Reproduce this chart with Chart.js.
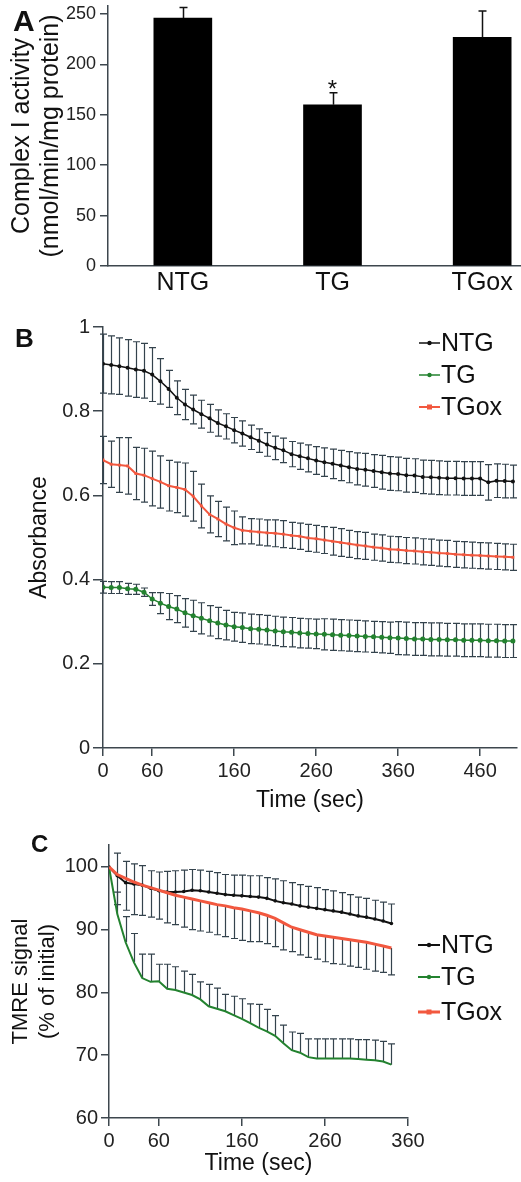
<!DOCTYPE html>
<html>
<head>
<meta charset="utf-8">
<script src="https://cdn.jsdelivr.net/npm/chart.js@4.4.1/dist/chart.umd.min.js"></script>
<style>
  html, body { overflow: hidden; }
  body { margin: 0; background: #fff; width: 521px; height: 1182px; position: relative;
         font-family: "Liberation Sans", Arial, sans-serif; }
  canvas { position: absolute; left: 0; }
  .panel { position: absolute; font-weight: bold; line-height: 1; color: #111; }
</style>
</head>
<body>
<canvas id="chartA" width="557" height="300" style="top:0px"></canvas>
<canvas id="chartB" width="521" height="520" style="top:300px"></canvas>
<canvas id="chartC" width="521" height="342" style="top:840px"></canvas>
<div class="panel" style="left:13px; top:6px; font-size:30px">A</div>
<div class="panel" style="left:15px; top:325px; font-size:26px">B</div>
<div class="panel" style="left:31px; top:832px; font-size:24px">C</div>

<script>
// ---- panel A: complex I activity ----
const categoriesA = ['NTG', 'TG', 'TGox'];
const activityA = [246, 160, 227];
const activityErrA = [10.5, 12, 26];
const yTicksA = [0, 50, 100, 150, 200, 250];

// ---- panel B: absorbance vs time ----
const timeB = [0, 10, 20, 30, 40, 50, 60, 70, 80, 90, 100, 110, 120, 130, 140, 150, 160, 170, 180, 190,
  200, 210, 220, 230, 240, 250, 260, 270, 280, 290, 300, 310, 320, 330, 340, 350, 360, 370, 380, 390,
  400, 410, 420, 430, 440, 450, 460, 470, 480, 490, 500];
const ntgB = [0.913, 0.910, 0.907, 0.903, 0.899, 0.896, 0.887, 0.871, 0.853, 0.832,
  0.816, 0.804, 0.793, 0.783, 0.772, 0.764, 0.755, 0.747, 0.738, 0.730,
  0.721, 0.713, 0.707, 0.698, 0.693, 0.688, 0.683, 0.679, 0.675, 0.671,
  0.667, 0.663, 0.661, 0.658, 0.655, 0.652, 0.651, 0.648, 0.647, 0.644,
  0.643, 0.642, 0.641, 0.641, 0.640, 0.640, 0.640, 0.631, 0.635, 0.634, 0.633];
const ntgErrB = [0.070, 0.069, 0.067, 0.067, 0.066, 0.065, 0.064, 0.054, 0.044, 0.040,
  0.036, 0.034, 0.033, 0.033, 0.031, 0.030, 0.030, 0.030, 0.029, 0.028,
  0.028, 0.028, 0.029, 0.030, 0.031, 0.032, 0.033, 0.034, 0.035, 0.036,
  0.037, 0.038, 0.039, 0.039, 0.040, 0.040, 0.040, 0.040, 0.040, 0.040,
  0.040, 0.040, 0.040, 0.040, 0.040, 0.040, 0.040, 0.042, 0.040, 0.040, 0.039];
const tgB = [0.382, 0.381, 0.381, 0.378, 0.377, 0.370, 0.354, 0.344, 0.336, 0.330,
  0.321, 0.314, 0.308, 0.302, 0.297, 0.292, 0.288, 0.286, 0.283, 0.282,
  0.280, 0.278, 0.276, 0.275, 0.273, 0.272, 0.271, 0.270, 0.269, 0.268,
  0.267, 0.266, 0.265, 0.264, 0.263, 0.262, 0.261, 0.260, 0.259, 0.259,
  0.258, 0.258, 0.257, 0.257, 0.256, 0.256, 0.256, 0.255, 0.255, 0.254, 0.254];
const tgErrB = [0.014, 0.014, 0.014, 0.013, 0.012, 0.010, 0.015, 0.025, 0.031, 0.032,
  0.034, 0.037, 0.037, 0.036, 0.037, 0.035, 0.034, 0.035, 0.035, 0.035,
  0.035, 0.035, 0.035, 0.035, 0.035, 0.035, 0.035, 0.037, 0.037, 0.037,
  0.037, 0.037, 0.037, 0.037, 0.037, 0.037, 0.039, 0.039, 0.039, 0.039,
  0.039, 0.039, 0.039, 0.039, 0.039, 0.039, 0.039, 0.039, 0.039, 0.039, 0.039];
const tgoxB = [0.684, 0.674, 0.672, 0.670, 0.652, 0.648, 0.640, 0.632, 0.623, 0.619,
  0.614, 0.598, 0.575, 0.555, 0.544, 0.532, 0.523, 0.517, 0.515, 0.513,
  0.511, 0.510, 0.508, 0.505, 0.503, 0.499, 0.497, 0.494, 0.491, 0.488,
  0.485, 0.482, 0.480, 0.477, 0.475, 0.472, 0.471, 0.469, 0.468, 0.466,
  0.465, 0.463, 0.462, 0.460, 0.459, 0.458, 0.457, 0.456, 0.455, 0.454, 0.453];
const tgoxErrB = [0.056, 0.055, 0.065, 0.067, 0.062, 0.064, 0.065, 0.062, 0.060, 0.060,
  0.063, 0.059, 0.052, 0.044, 0.042, 0.040, 0.040, 0.032, 0.030, 0.031,
  0.031, 0.032, 0.032, 0.031, 0.031, 0.032, 0.032, 0.032, 0.033, 0.033,
  0.032, 0.032, 0.032, 0.031, 0.031, 0.031, 0.031, 0.031, 0.031, 0.031,
  0.031, 0.031, 0.031, 0.031, 0.031, 0.031, 0.031, 0.031, 0.031, 0.031, 0.031];
const xTicksB = [0, 60, 160, 260, 360, 460];
const yTicksB = [0, 0.2, 0.4, 0.6, 0.8, 1];

// ---- panel C: TMRE signal vs time ----
const timeC = [0, 10, 20, 30, 40, 50, 60, 70, 80, 90, 100, 110, 120, 130, 140, 150, 160, 170,
  180, 190, 200, 210, 220, 230, 240, 250, 260, 270, 280, 290, 300, 310, 320, 330, 340];
const ntgC = [100, 98.6, 97.5, 97.3, 97.1, 96.6, 96.2, 96.0, 96.0, 96.1,
  96.3, 96.2, 96.0, 95.8, 95.6, 95.5, 95.4, 95.3, 95.2, 95.0,
  94.6, 94.3, 94.1, 93.8, 93.6, 93.4, 93.2, 93.0, 92.8, 92.5,
  92.2, 92.0, 91.7, 91.4, 91.0];
const ntgErrC = [0, 3.6, 3.4, 3.2, 3.1, 2.8, 3.0, 3.3, 3.4, 3.4,
  3.3, 3.3, 3.3, 3.3, 3.2, 3.2, 3.3, 3.3, 3.4, 3.3,
  3.5, 3.5, 3.4, 3.4, 3.3, 3.3, 3.2, 3.2, 3.1, 3.1,
  3.0, 3.0, 3.0, 3.0, 3.1];
const tgC = [100, 92.5, 88.0, 84.8, 82.3, 81.7, 81.8, 80.6, 80.4, 80.0,
  79.6, 78.9, 77.8, 77.4, 77.0, 76.4, 75.8, 75.1, 74.4, 73.8,
  73.1, 71.9, 70.8, 70.4, 69.7, 69.5, 69.5, 69.5, 69.5, 69.5,
  69.4, 69.3, 69.2, 69.0, 68.5];
const tgErrC = [0, 3.5, 4.1, 4.6, 3.8, 4.4, 2.7, 3.9, 3.7, 3.4,
  3.3, 2.8, 3.5, 3.3, 2.7, 3.0, 3.2, 3.1, 3.7, 3.5,
  3.2, 2.9, 2.9, 3.1, 2.9, 3.1, 3.1, 3.1, 3.1, 3.1,
  3.1, 3.2, 3.2, 3.2, 3.3];
const tgoxC = [100, 98.8, 98.2, 97.6, 97.1, 96.7, 96.3, 95.9, 95.5, 95.2,
  94.9, 94.6, 94.3, 94.0, 93.8, 93.5, 93.3, 93.0, 92.7, 92.3,
  91.8, 91.1, 90.4, 90.0, 89.6, 89.2, 89.0, 88.8, 88.6, 88.4,
  88.2, 88.0, 87.7, 87.4, 87.1];
const tgoxErrC = [0, 4.8, 5.1, 5.2, 4.8, 4.7, 4.6, 4.8, 4.7, 4.8,
  4.9, 4.8, 4.7, 4.8, 4.9, 4.9, 5.0, 4.9, 4.6, 4.5,
  4.5, 4.3, 3.9, 4.0, 4.0, 3.9, 4.1, 4.2, 4.1, 4.2,
  4.2, 4.3, 4.3, 4.2, 4.3];
const xTicksC = [0, 60, 160, 260, 360];
const yTicksC = [60, 70, 80, 90, 100];

const FONT = '"Liberation Sans", Arial, sans-serif';
const axisColor = '#3d474e';
const errColor = '#34434d';
const black = '#111111';
const green = '#23822f';
const red = '#f2583f';

Chart.defaults.font.family = FONT;
Chart.defaults.color = '#111';

function fixWidth(w) {
    return s => { s.width = w; s.paddingTop = 0; s.paddingBottom = 0; };
}
function fixHeight(h) {
    return s => { s.height = h; s.paddingLeft = 0; s.paddingRight = 0; };
}
function useTicks(list) {
    return axis => { axis.ticks = list.map(v => ({ value: v })); };
}
function points(xs, ys) {
    return xs.map((x, i) => ({ x: x, y: ys[i] }));
}
function valueAt(ds, i) {
    return typeof ds.data[i] === 'object' ? ds.data[i].y : ds.data[i];
}

// vertical error bars, read from dataset.errors
const errorBars = {
    id: 'errorBars',
    draw(chart, opts) {
        const ctx = chart.ctx;
        const yScale = chart.scales.y;
        ctx.save();
        chart.data.datasets.forEach((ds, di) => {
            if (!ds.errors) return;
            const meta = chart.getDatasetMeta(di);
            ctx.strokeStyle = opts.color;
            ctx.lineWidth = opts.width;
            meta.data.forEach((el, i) => {
                const v = valueAt(ds, i);
                const e = ds.errors[i];
                if (!e) return;
                const x = Math.round(el.x) + 0.5;
                const hi = yScale.getPixelForValue(ds.errorDir === 'down' ? v : v + e);
                const lo = yScale.getPixelForValue(ds.errorDir === 'up' ? v : v - e);
                ctx.beginPath();
                ctx.moveTo(x, hi);
                ctx.lineTo(x, lo);
                if (ds.errorDir !== 'down') {
                    ctx.moveTo(x - opts.cap, hi);
                    ctx.lineTo(x + opts.cap, hi);
                }
                if (ds.errorDir !== 'up') {
                    ctx.moveTo(x - opts.cap, lo);
                    ctx.lineTo(x + opts.cap, lo);
                }
                ctx.stroke();
            });
            if (ds.star !== undefined) {
                const i = ds.star;
                const el = meta.data[i];
                const top = yScale.getPixelForValue(valueAt(ds, i) + ds.errors[i]);
                ctx.fillStyle = '#111';
                ctx.font = '24px ' + FONT;
                ctx.textAlign = 'center';
                ctx.textBaseline = 'alphabetic';
                ctx.fillText('*', el.x, top + 4);
            }
        });
        ctx.restore();
    },
    beforeDatasetsDraw(chart, args, opts) {
        if (!opts.front) this.draw(chart, opts);
    },
    afterDatasetsDraw(chart, args, opts) {
        if (opts.front) this.draw(chart, opts);
    }
};

// legend placed inside the plot, one row per dataset
const insetLegend = {
    id: 'insetLegend',
    afterDraw(chart, args, opts) {
        if (!opts.ys) return;
        const ctx = chart.ctx;
        ctx.save();
        chart.data.datasets.forEach((ds, k) => {
            const y = opts.ys[k];
            const x0 = opts.x, x1 = opts.x + opts.len;
            ctx.strokeStyle = ds.borderColor;
            ctx.lineWidth = ds.borderWidth;
            ctx.beginPath();
            ctx.moveTo(x0, y);
            ctx.lineTo(x1, y);
            ctx.stroke();
            ctx.fillStyle = ds.borderColor;
            const mx = (x0 + x1) / 2;
            if (ds.legendMarker === 'rect') {
                ctx.fillRect(mx - 2.5, y - 2.5, 5, 5);
            } else {
                ctx.beginPath();
                ctx.arc(mx, y, 2.2, 0, Math.PI * 2);
                ctx.fill();
            }
            ctx.fillStyle = '#111';
            ctx.font = opts.size + 'px ' + FONT;
            ctx.textAlign = 'left';
            ctx.textBaseline = 'middle';
            ctx.fillText(ds.label, x1 + 1, y + 1);
        });
        ctx.restore();
    }
};

const baseOptions = {
    animation: false,
    responsive: false,
    devicePixelRatio: 1,
    events: [],
};

// ---- A ----
// the category axis runs past the right edge of the page, as in the figure
new Chart(document.getElementById('chartA'), {
    type: 'bar',
    data: {
        labels: categoriesA,
        datasets: [{
            label: 'Complex I activity',
            data: activityA,
            errors: activityErrA,
            errorDir: 'up',
            star: 1,
            backgroundColor: '#000',
            barThickness: 58
        }]
    },
    options: {
        ...baseOptions,
        layout: { padding: { top: 6, left: 0, right: 0, bottom: 0 } },
        plugins: {
            legend: { display: false },
            tooltip: { enabled: false },
            errorBars: { color: '#111', width: 1.5, cap: 4, front: true }
        },
        scales: {
            x: {
                grid: { display: false, drawTicks: false, tickLength: 0 },
                border: { display: true, color: axisColor, width: 1.5 },
                ticks: { font: { size: 25 }, color: '#111', padding: 2, maxRotation: 0 },
                afterFit: fixHeight(34)
            },
            y: {
                min: 0, max: 258,
                afterBuildTicks: useTicks(yTicksA),
                grid: { drawOnChartArea: false, tickLength: 8, color: axisColor, lineWidth: 1.5 },
                border: { display: true, color: axisColor, width: 1.5 },
                ticks: { callback: v => String(v), font: { size: 18 }, color: '#222', padding: 4 },
                title: { display: true, text: ['Complex I activity', '(nmol/min/mg protein)'], font: { size: 25, lineHeight: 1.16 }, color: '#111', padding: { top: 8, bottom: 0 } },
                afterFit: fixWidth(108)
            }
        }
    },
    plugins: [errorBars]
});

// ---- B ----
new Chart(document.getElementById('chartB'), {
    type: 'line',
    data: {
        datasets: [
            { label: 'NTG', data: points(timeB, ntgB), errors: ntgErrB, errorDir: 'both',
              borderColor: black, backgroundColor: black, borderWidth: 1.5, pointRadius: 2, pointBorderWidth: 0, legendMarker: 'dot' },
            { label: 'TG', data: points(timeB, tgB), errors: tgErrB, errorDir: 'both',
              borderColor: green, backgroundColor: green, borderWidth: 1.5, pointRadius: 2.5, pointBorderWidth: 0, legendMarker: 'dot' },
            { label: 'TGox', data: points(timeB, tgoxB), errors: tgoxErrB, errorDir: 'both',
              borderColor: red, backgroundColor: red, borderWidth: 2, pointStyle: 'rect', pointRadius: 2, pointBorderWidth: 0, legendMarker: 'rect' }
        ]
    },
    options: {
        ...baseOptions,
        layout: { padding: { top: 27, left: 0, right: 0, bottom: 0 } },
        elements: { line: { tension: 0 } },
        plugins: {
            legend: { display: false },
            tooltip: { enabled: false },
            errorBars: { color: errColor, width: 1.2, cap: 3.5, front: false },
            insetLegend: { x: 419, len: 21, ys: [43, 75, 107], size: 25 }
        },
        scales: {
            x: {
                type: 'linear', min: 0, max: 505,
                afterBuildTicks: useTicks(xTicksB),
                grid: { drawOnChartArea: false, tickLength: 8, color: axisColor, lineWidth: 1.5 },
                border: { display: true, color: axisColor, width: 1.5 },
                ticks: { callback: v => String(v), font: { size: 20 }, color: '#222', padding: 3, maxRotation: 0 },
                title: { display: true, text: 'Time (sec)', font: { size: 23 }, color: '#111', padding: { top: 0, bottom: 6 } },
                afterFit: fixHeight(72)
            },
            y: {
                min: 0, max: 1,
                afterBuildTicks: useTicks(yTicksB),
                grid: { drawOnChartArea: false, tickLength: 10, color: axisColor, lineWidth: 1.5 },
                border: { display: true, color: axisColor, width: 1.5 },
                ticks: { callback: v => String(v), font: { size: 20 }, color: '#222', padding: 3 },
                title: { display: true, text: 'Absorbance', font: { size: 23 }, color: '#111', padding: { top: 26, bottom: 0 } },
                afterFit: fixWidth(103)
            }
        }
    },
    plugins: [errorBars, insetLegend]
});

// ---- C ----
new Chart(document.getElementById('chartC'), {
    type: 'line',
    data: {
        datasets: [
            { label: 'NTG', data: points(timeC, ntgC), errors: ntgErrC, errorDir: 'up',
              borderColor: black, backgroundColor: black, borderWidth: 2, pointRadius: 1.8, pointBorderWidth: 0, legendMarker: 'dot', order: 2 },
            { label: 'TG', data: points(timeC, tgC), errors: tgErrC, errorDir: 'up',
              borderColor: green, backgroundColor: green, borderWidth: 2, pointRadius: 0, legendMarker: 'dot', order: 3 },
            { label: 'TGox', data: points(timeC, tgoxC), errors: tgoxErrC, errorDir: 'down',
              borderColor: red, backgroundColor: red, borderWidth: 3, pointRadius: 0, legendMarker: 'rect', order: 1 }
        ]
    },
    options: {
        ...baseOptions,
        layout: { padding: { top: 5, left: 0, right: 113, bottom: 0 } },
        elements: { line: { tension: 0 } },
        plugins: {
            legend: { display: false },
            tooltip: { enabled: false },
            errorBars: { color: errColor, width: 1.2, cap: 3.5, front: false },
            insetLegend: { x: 418, len: 22, ys: [105, 137, 172], size: 25 }
        },
        scales: {
            x: {
                type: 'linear', min: 0, max: 360,
                afterBuildTicks: useTicks(xTicksC),
                grid: { drawOnChartArea: false, tickLength: 8, color: axisColor, lineWidth: 1.5 },
                border: { display: true, color: axisColor, width: 1.5 },
                ticks: { callback: v => String(v), font: { size: 20 }, color: '#222', padding: 3, maxRotation: 0 },
                title: { display: true, text: 'Time (sec)', font: { size: 23 }, color: '#111', padding: { top: 0, bottom: 5 } },
                afterFit: fixHeight(64)
            },
            y: {
                min: 60, max: 103.5,
                afterBuildTicks: useTicks(yTicksC),
                grid: { drawOnChartArea: false, tickLength: 8, color: axisColor, lineWidth: 1.5 },
                border: { display: true, color: axisColor, width: 1.5 },
                ticks: { callback: v => String(v), font: { size: 20 }, color: '#222', padding: 3 },
                title: { display: true, text: ['TMRE signal', '(% of initial)'], font: { size: 22, lineHeight: 1.23 }, color: '#111', padding: { top: 7, bottom: 0 } },
                afterFit: fixWidth(109)
            }
        }
    },
    plugins: [errorBars, insetLegend]
});
</script>
</body>
</html>
